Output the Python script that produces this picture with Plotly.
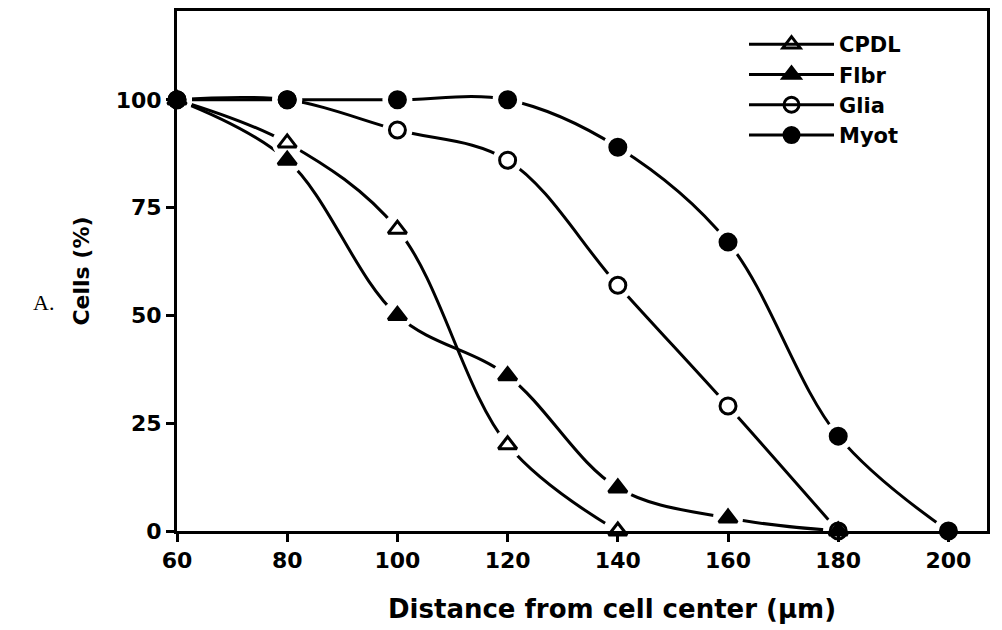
import plotly.graph_objects as go

distance = [60, 80, 100, 120, 140, 160, 180, 200]

cpdl_x = [60, 80, 100, 120, 140]
cpdl_y = [100, 90, 70, 20, 0]

fibr_x = [60, 80, 100, 120, 140, 160, 180]
fibr_y = [100, 86, 50, 36, 10, 3, 0]

glia_x = [60, 80, 100, 120, 140, 160, 180]
glia_y = [100, 100, 93, 86, 57, 29, 0]

myot_x = [60, 80, 100, 120, 140, 160, 180, 200]
myot_y = [100, 100, 100, 100, 89, 67, 22, 0]

series = [
    ("CPDL", cpdl_x, cpdl_y, "triangle-up-open"),
    ("Flbr", fibr_x, fibr_y, "triangle-up"),
    ("Glia", glia_x, glia_y, "circle-open"),
    ("Myot", myot_x, myot_y, "circle"),
]

fig = go.Figure()

# smoothed lines
for name, xs, ys, sym in series:
    fig.add_trace(go.Scatter(
        x=xs, y=ys, mode="lines", showlegend=False, hoverinfo="skip",
        line=dict(color="black", width=3, shape="spline", smoothing=1.0),
    ))

# white halos (clipped layer, same as the lines) so lines stop short of markers
for name, xs, ys, sym in series:
    fig.add_trace(go.Scatter(
        x=xs, y=ys, mode="markers", showlegend=False, hoverinfo="skip",
        marker=dict(symbol="circle", size=30, color="white",
                    line=dict(width=0)),
    ))

# the markers
for name, xs, ys, sym in series:
    fig.add_trace(go.Scatter(
        x=xs, y=ys, mode="markers", name=name, showlegend=False,
        marker=dict(symbol=sym, size=16, color="black",
                    line=dict(color="black", width=3)),
        cliponaxis=False,
    ))

# legend entries (line + marker sample, no data)
for name, xs, ys, sym in series:
    fig.add_trace(go.Scatter(
        x=[None], y=[None], mode="lines+markers", name=name,
        line=dict(color="black", width=3),
        marker=dict(symbol=sym, size=15, color="black",
                    line=dict(color="black", width=3)),
    ))

font_b = "DejaVu Sans"

fig.update_layout(
    width=1002, height=630,
    margin=dict(l=169, r=23, t=3, b=107),
    paper_bgcolor="white", plot_bgcolor="white",
    font=dict(family=font_b, size=22, color="black"),
    showlegend=True,
    legend=dict(
        x=0.70, y=0.975, xanchor="left", yanchor="top",
        bgcolor="rgba(0,0,0,0)", itemwidth=85,
        font=dict(family=font_b, size=21, color="black", weight="bold"),
        tracegroupgap=0, itemsizing="trace",
    ),
    xaxis=dict(
        range=[60, 207], tickvals=distance, ticks="outside", ticklen=8,
        tickwidth=3, tickcolor="black", showline=True, linewidth=3,
        linecolor="black", mirror=True, showgrid=False, zeroline=False,
        automargin=False,
        tickfont=dict(size=22, weight="bold"),
    ),
    yaxis=dict(
        range=[0, 120.6], tickvals=[0, 25, 50, 75, 100], ticks="outside",
        ticklen=8, tickwidth=3, tickcolor="black", showline=True,
        linewidth=3, linecolor="black", mirror=True, showgrid=False,
        zeroline=False, automargin=False, tickfont=dict(size=22, weight="bold"),
        title=dict(text="Cells (%)", font=dict(size=22, weight="bold"),
                   standoff=20),
    ),
    annotations=[
        dict(
            text="A.", x=-0.18, y=0.44, xref="paper", yref="paper",
            xanchor="left", yanchor="middle", showarrow=False,
            font=dict(family="Liberation Serif", size=22, color="black"),
        ),
        dict(
            text="<b>Distance from cell center (\u03bcm)</b>",
            x=0.537, y=-0.15, xref="paper", yref="paper",
            xanchor="center", yanchor="middle", showarrow=False,
            font=dict(family=font_b, size=26, color="black"),
        ),
    ],
)

fig.write_html("out.html")
